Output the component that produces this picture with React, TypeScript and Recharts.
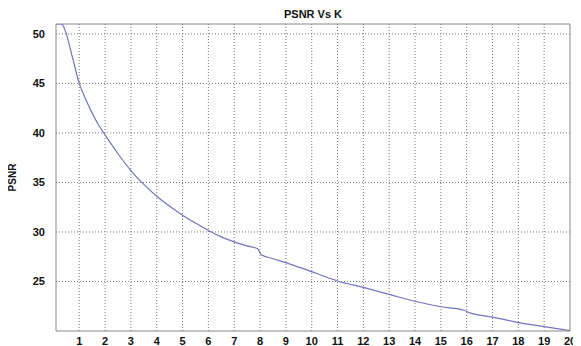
import {
  LineChart,
  Line,
  XAxis,
  YAxis,
  CartesianGrid,
  ReferenceLine,
  Label
} from "recharts";

const kValues = [
  0.1, 0.3, 0.4, 0.5, 0.75, 1, 1.25, 1.5, 1.75, 2, 2.5, 3, 3.5, 4, 4.5, 5, 5.5, 6,
  6.5, 7, 7.5, 7.9, 8.05, 8.5, 9, 9.5, 10, 10.5, 11, 12, 13, 14, 15, 15.9, 16.1,
  17, 18, 19, 20
];
const psnrValues = [
  51, 51, 50.7, 50, 47.5, 45, 43.4, 42, 40.8, 39.8, 37.9, 36.2, 34.8, 33.6, 32.6,
  31.7, 30.9, 30.15, 29.5, 29.0, 28.6, 28.3, 27.7, 27.3, 26.9, 26.45, 26.0, 25.5,
  25.05, 24.4, 23.7, 23.0, 22.45, 22.1, 21.85, 21.4, 20.85, 20.45, 20.03
];
const xTicks = [1, 2, 3, 4, 5, 6, 7, 8, 9, 10, 11, 12, 13, 14, 15, 16, 17, 18, 19, 20];
const yTicks = [25, 30, 35, 40, 45, 50];

const data = kValues.map((k, i) => ({ k, psnr: psnrValues[i] }));

const tickStyle = {
  fontFamily: "'Liberation Sans', Arial, sans-serif",
  fontSize: 11,
  fontWeight: 700,
  fill: "#111"
};

export default function App() {
  return (
    <div style={{ position: "relative", width: 573, height: 338 }}>
      <div
        style={{
          position: "absolute",
          left: 48,
          width: 514,
          top: 0,
          textAlign: "center",
          fontFamily: "'Liberation Sans', Arial, sans-serif",
          fontSize: 11,
          fontWeight: 700,
          color: "#111"
        }}
      >
        PSNR Vs K
      </div>
      <LineChart
        width={573}
        height={338}
        data={data}
        margin={{ top: 16, right: 11, bottom: 0, left: 0 }}
      >
        <CartesianGrid
          stroke="#777"
          strokeDasharray="1 2"
          horizontalValues={yTicks}
          verticalValues={xTicks.slice(0, -1)}
        />
        <XAxis
          dataKey="k"
          type="number"
          domain={[0.1, 20]}
          ticks={xTicks}
          height={15}
          stroke="#888"
          tickLine={false}
          tick={tickStyle}
          tickMargin={0}
          interval={0}
        />
        <YAxis
          type="number"
          domain={[20, 51]}
          ticks={yTicks}
          width={48}
          stroke="#888"
          tickLine={false}
          tick={tickStyle}
          tickMargin={5}
          allowDataOverflow
        >
          <Label
            value="PSNR"
            angle={-90}
            position="insideLeft"
            offset={4}
            style={{
              textAnchor: "middle",
              fontFamily: "'Liberation Sans', Arial, sans-serif",
              fontSize: 10,
              fontWeight: 700,
              fill: "#111"
            }}
          />
        </YAxis>
        <ReferenceLine y={51} stroke="#888" />
        <ReferenceLine x={20} stroke="#888" />
        <Line
          type="monotone"
          dataKey="psnr"
          stroke="#7474c0"
          strokeWidth={1.2}
          dot={false}
          isAnimationActive={false}
        />
      </LineChart>
    </div>
  );
}
